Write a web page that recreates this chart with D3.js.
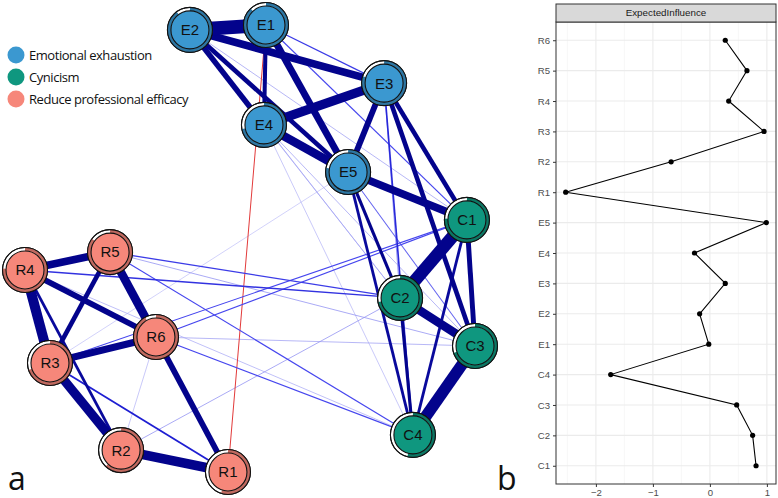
<!DOCTYPE html>
<html>
<head>
<meta charset="utf-8">
<script src="https://cdn.jsdelivr.net/npm/d3@7"></script>
<style>
  html, body { margin: 0; padding: 0; background: #fff; }
  svg { display: block; font-family: "Liberation Sans", Arial, sans-serif; }
</style>
</head>
<body>
<svg id="chart" width="778" height="498"></svg>
<script>
// ---------------- DATA ----------------
const groups = ["Emotional exhaustion", "Cynicism", "Reduce professional efficacy"];
const groupColors = ["#3b98d0", "#0f977f", "#f6877a"];

const nodeIds   = ["E1","E2","E3","E4","E5","C1","C2","C3","C4","R1","R2","R3","R4","R5","R6"];
const nodeGroup = [0,0,0,0,0,1,1,1,1,2,2,2,2,2,2];
// layout coordinates (qgraph-style, -1..1)
const layoutX = [0.071,-0.267,0.596,0.062,0.436,0.964,0.667,1.000,0.724,-0.098,-0.573,-0.889,-1.000,-0.622,-0.418];
const layoutY = [1.000,0.978,0.740,0.553,0.342,0.128,-0.221,-0.436,-0.834,-1.000,-0.902,-0.512,-0.096,-0.016,-0.396];
// predictability (pie)
const predictability = [0.88,0.90,0.80,0.72,0.78,0.76,0.72,0.70,0.54,0.55,0.62,0.70,0.76,0.85,0.92];

// edges: from, to, weight (negative = red)
const edgeFrom   = ["E1","E2","E2","E2","E1","E1","E1","E1","E3","E3","E4","E3","E3","E3","E3","E5","E5","E5","E5","E4","E4","E4","E2","E2","C1","C1","C1","C2","C2","C3","E1","E5",
                    "R4","R4","R4","R4","R5","R5","R6","R6","R3","R3","R2","R6","R4","R4","R5","R5","R5","R6","R6","R6","R3","R2"];
const edgeTo     = ["E2","E3","E4","E5","E4","E5","E3","C1","E4","E5","E5","C1","C3","C2","C4","C1","C2","C4","C3","C2","C3","C4","C1","C2","C2","C3","C4","C3","C4","C4","R1","R3",
                    "R5","R3","R6","R2","R3","R6","R3","R1","R2","R1","R1","R2","C4","C2","C2","C3","C4","C1","C3","C4","C1","C2"];
const edgeWeight = [0.90,0.50,0.36,0.30,0.26,0.45,0.08,0.07,0.62,0.38,0.56,0.30,0.30,0.05,0.10,0.50,0.20,0.18,0.06,0.04,0.04,0.03,0.04,0.035,0.82,0.32,0.18,0.56,0.20,0.76,-0.07,0.025,
                    0.50,0.66,0.38,0.18,0.30,0.56,0.46,0.38,0.60,0.11,0.62,0.03,0.035,0.09,0.08,0.045,0.07,0.07,0.04,0.07,0.07,0.045];

// centrality panel
const eiCategories = ["C1","C2","C3","C4","E1","E2","E3","E4","E5","R1","R2","R3","R4","R5","R6"];
const eiValues     = [0.81,0.75,0.47,-1.74,-0.02,-0.18,0.27,-0.27,0.99,-2.53,-0.68,0.95,0.33,0.65,0.27];
const eiTicks      = [-2,-1,0,1];
const eiMinor      = [-2.5,-1.5,-0.5,0.5];
const stripTitle   = "ExpectedInfluence";

// ---------------- NETWORK ----------------
const svg = d3.select("#chart");
const nx = d3.scaleLinear().domain([-1,1]).range([25,475]);
const ny = d3.scaleLinear().domain([-1,1]).range([472,25]);

const nodes = nodeIds.map((id,i)=>({id, g:nodeGroup[i], x:nx(layoutX[i]), y:ny(layoutY[i]), p:predictability[i]}));
const byId = Object.fromEntries(nodes.map(n=>[n.id,n]));
const edges = edgeFrom.map((f,i)=>({s:byId[f], t:byId[edgeTo[i]], w:edgeWeight[i]}))
  .sort((a,b)=>Math.abs(a.w)-Math.abs(b.w));

const widthScale = d3.scaleLinear().domain([0,1]).range([0.1,15.2]);
const posColor = d3.scaleLinear()
  .domain([0.02,0.04,0.07,0.11,0.2])
  .range(["#d2d2fa","#a4a4f4","#4646ee","#1e1ed2","#03038c"]).clamp(true);

const gEdges = svg.append("g");
gEdges.selectAll("line").data(edges).join("line")
  .attr("x1",d=>d.s.x).attr("y1",d=>d.s.y)
  .attr("x2",d=>d.t.x).attr("y2",d=>d.t.y)
  .attr("stroke",d=>d.w<0 ? "#e23a3a" : posColor(d.w))
  .attr("stroke-width",d=>d.w<0 ? 1 : Math.max(0.8, widthScale(d.w)))
  .attr("stroke-linecap","butt");

const R_OUT = 22.5, R_IN = 19;
const gNodes = svg.append("g").selectAll("g").data(nodes).join("g")
  .attr("transform",d=>`translate(${d.x},${d.y})`);
gNodes.append("circle").attr("r",R_OUT).attr("fill","#fff").attr("stroke","#000").attr("stroke-width",1);
const arc = d3.arc().innerRadius(R_IN).outerRadius(R_OUT).startAngle(0);
gNodes.append("path")
  .attr("d",d=>arc({endAngle: 2*Math.PI*d.p}))
  .attr("fill",d=>d3.color(groupColors[d.g]).darker(0.7));
gNodes.append("circle").attr("r",R_OUT).attr("fill","none").attr("stroke","#111").attr("stroke-width",1.1);
gNodes.append("circle").attr("r",R_IN).attr("fill",d=>groupColors[d.g]).attr("stroke","#111").attr("stroke-width",1.1);
gNodes.append("text").text(d=>d.id)
  .attr("text-anchor","middle").attr("dy","0.36em")
  .attr("font-size",15).attr("fill","#111");

// legend
const leg = svg.append("g").selectAll("g").data(groups).join("g")
  .attr("transform",(d,i)=>`translate(16,${55+i*22})`);
leg.append("circle").attr("r",8.5).attr("fill",(d,i)=>groupColors[i]);
leg.append("text").text(d=>d).attr("x",13).attr("dy","0.36em")
  .attr("font-size",13).attr("fill","#111").attr("font-family","'Open Sans', sans-serif").attr("letter-spacing","-0.45");

// panel letters
svg.append("text").text("a").attr("x",8).attr("y",490).attr("font-size",32).attr("fill","#111").attr("font-family","'Open Sans', sans-serif");
svg.append("text").text("b").attr("x",497).attr("y",490).attr("font-size",32).attr("fill","#111").attr("font-family","'Open Sans', sans-serif");

// ---------------- EXPECTED INFLUENCE PANEL ----------------
const pL = 556, pR = 776, pT = 22, pB = 484, sT = 4;
const xs = d3.scaleLinear().domain([-2.70,1.16]).range([pL,pR]);
const ys = d3.scalePoint().domain(eiCategories).range([pB,pT]).padding(0.6);

const gp = svg.append("g");
gp.append("rect").attr("x",pL).attr("y",pT).attr("width",pR-pL).attr("height",pB-pT).attr("fill","#fff");
gp.selectAll(".minor").data(eiMinor).join("line")
  .attr("x1",d=>xs(d)).attr("x2",d=>xs(d)).attr("y1",pT).attr("y2",pB)
  .attr("stroke","#f2f2f2").attr("stroke-width",0.6);
gp.selectAll(".majx").data(eiTicks).join("line")
  .attr("x1",d=>xs(d)).attr("x2",d=>xs(d)).attr("y1",pT).attr("y2",pB)
  .attr("stroke","#ebebeb").attr("stroke-width",1.1);
gp.selectAll(".majy").data(eiCategories).join("line")
  .attr("y1",d=>ys(d)).attr("y2",d=>ys(d)).attr("x1",pL).attr("x2",pR)
  .attr("stroke","#ebebeb").attr("stroke-width",1.1);

const pts = eiCategories.map((c,i)=>({c, v:eiValues[i]}));
gp.append("path").datum(pts)
  .attr("d", d3.line().x(d=>xs(d.v)).y(d=>ys(d.c)))
  .attr("fill","none").attr("stroke","#000").attr("stroke-width",1.1);
gp.selectAll(".pt").data(pts).join("circle")
  .attr("cx",d=>xs(d.v)).attr("cy",d=>ys(d.c)).attr("r",2.6).attr("fill","#000");

gp.append("rect").attr("x",pL).attr("y",pT).attr("width",pR-pL).attr("height",pB-pT)
  .attr("fill","none").attr("stroke","#333").attr("stroke-width",1);
// strip
gp.append("rect").attr("x",pL).attr("y",sT).attr("width",pR-pL).attr("height",pT-sT)
  .attr("fill","#d9d9d9").attr("stroke","#333").attr("stroke-width",1);
gp.append("text").text(stripTitle).attr("x",(pL+pR)/2).attr("y",(sT+pT)/2).attr("dy","0.35em")
  .attr("text-anchor","middle").attr("font-size",9.8).attr("fill","#1a1a1a");

// axes
const xAxis = gp.append("g").attr("transform",`translate(0,${pB})`)
  .call(d3.axisBottom(xs).tickValues(eiTicks).tickSize(3).tickPadding(2).tickFormat(d3.format("d")));
const yAxis = gp.append("g").attr("transform",`translate(${pL},0)`)
  .call(d3.axisLeft(ys).tickSize(3).tickPadding(3));
[xAxis,yAxis].forEach(a=>{
  a.select(".domain").remove();
  a.selectAll(".tick line").attr("stroke","#333");
  a.selectAll(".tick text").attr("fill","#4d4d4d").attr("font-size",9.6).attr("font-family","'Liberation Sans', Arial, sans-serif");
});
xAxis.selectAll(".tick text").text(d=>d<0 ? "\u2212"+Math.abs(d) : d);
</script>
</body>
</html>
